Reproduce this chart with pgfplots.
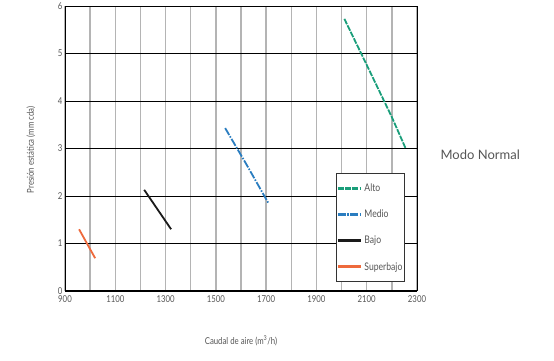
\documentclass[border=0pt]{standalone}
\usepackage{pgfplots}
\pgfplotsset{compat=1.18}
\usepackage{fontspec}
\setmainfont{Lato}[FakeStretch=0.82]
\newfontfamily\modofont{Lato}
\definecolor{alto}{HTML}{1A9E7A}
\definecolor{medio}{HTML}{2A7DC0}
\definecolor{bajo}{HTML}{1A1A1A}
\definecolor{superbajo}{HTML}{EE6A3C}
\definecolor{txt}{HTML}{555555}
\definecolor{vgrid}{HTML}{B4B4B4}
\begin{document}
\begin{tikzpicture}[x=1pt,y=1pt]
\useasboundingbox (0,0) rectangle (554,360);
\begin{axis}[
  at={(65pt,69pt)}, anchor=south west,
  scale only axis, width=352pt, height=285pt,
  xmin=900, xmax=2300, ymin=0, ymax=6,
  xtick={900,1100,...,2300},
  minor xtick={1000,1200,...,2200},
  ytick={0,1,...,6},
  xmajorgrids, xminorgrids, ymajorgrids,
  major x grid style={draw=vgrid, line width=1.4pt},
  minor x grid style={draw=vgrid, line width=1.4pt},
  major y grid style={draw=black, line width=0.9pt},
  axis line style={draw=none},
  tick style={draw=none},
  /pgf/number format/assume math mode=true,
  /pgf/number format/1000 sep={},
  ticklabel style={font=\fontsize{9.5}{10}\selectfont, text=txt},
  xticklabel style={yshift=-1pt},
  yticklabel style={xshift=1pt},
  legend cell align=left,
  legend style={at={(axis cs:1978,0.19)}, anchor=south west,
    draw=black!80, line width=0.8pt, fill=white,
    font=\fontsize{10.5}{11}\selectfont, text=txt,
    inner xsep=0pt, inner ysep=8pt, row sep=13pt,
    /tikz/every even column/.append style={column sep=3pt}},
  legend image code/.code={\draw[#1, line width=3pt] (-3pt,0pt) -- (20pt,0pt);},
  clip=false,
]
\draw[black, line width=1pt] (axis cs:900,6) -- (axis cs:2300,6);
\draw[black, line width=1pt] (axis cs:2300,0) -- (axis cs:2300,6);
\draw[black, line width=1pt] (axis cs:900,0) -- (axis cs:900,6);
\draw[black, line width=2pt] (axis cs:900,0) -- (axis cs:2300,0);
\addplot[alto, line width=1.8pt, dash pattern=on 6pt off 1.2pt] coordinates {(2011,5.73) (2100,4.76) (2200,3.66) (2255,3.0)};
\addlegendentry{Alto}
\addplot[medio, line width=1.8pt, dash pattern=on 8pt off 1.5pt on 1.5pt off 1.5pt] coordinates {(1537,3.43) (1620,2.68) (1709,1.85)};
\addlegendentry{Medio}
\addplot[bajo, line width=1.8pt] coordinates {(1215,2.13) (1322,1.30)};
\addlegendentry{Bajo}
\addplot[superbajo, line width=1.8pt] coordinates {(956,1.30) (1020,0.69)};
\addlegendentry{Superbajo}
\end{axis}
\node[rotate=90, font=\fontsize{9.5}{10}\selectfont, text=txt] at (31,210) {Presión estática (mm cda)};
\node[font=\fontsize{9.5}{10}\selectfont, text=txt] at (241,19) {Caudal de aire (m\textsuperscript{3}/h)};
\node[anchor=west, font=\modofont\fontsize{13}{15}\selectfont, text=txt] at (437,205) {Modo Normal};
\end{tikzpicture}
\end{document}
